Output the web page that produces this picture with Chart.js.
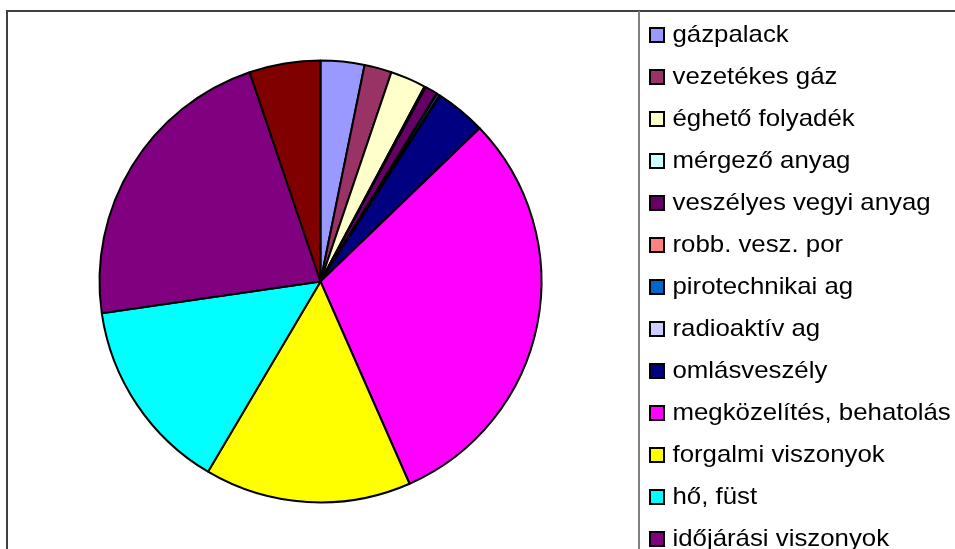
<!DOCTYPE html>
<html>
<head>
<meta charset="utf-8">
<script src="https://cdn.jsdelivr.net/npm/chart.js@4"></script>
<style>
html,body{margin:0;padding:0;background:#fff;}
#wrap{position:relative;width:955px;height:549px;}
</style>
</head>
<body>
<div id="wrap"><canvas id="c" width="955" height="549"></canvas></div>
<script>
const categories = [
  "gázpalack", "vezetékes gáz", "éghető folyadék", "mérgező anyag",
  "veszélyes vegyi anyag", "robb. vesz. por", "pirotechnikai ag",
  "radioaktív ag", "omlásveszély", "megközelítés, behatolás",
  "forgalmi viszonyok", "hő, füst", "időjárási viszonyok", "egyéb"
];
const values = [32, 20, 26, 1, 9, 0.5, 2, 0.5, 37, 306, 151, 142, 221, 52];
const colors = [
  "#9999FF", "#993366", "#FFFFCC", "#CCFFFF", "#660066", "#FF8080",
  "#0066CC", "#CCCCFF", "#000080", "#FF00FF", "#FFFF00", "#00FFFF",
  "#800080", "#800000"
];

const framePlugin = {
  id: 'frameLegend',
  afterDraw(chart) {
    const ctx = chart.ctx;
    ctx.save();
    ctx.strokeStyle = '#404040';
    ctx.lineWidth = 2;
    ctx.beginPath();
    ctx.moveTo(7, 549); ctx.lineTo(7, 11); ctx.lineTo(955, 11);
    ctx.stroke();
    ctx.strokeStyle = '#808080';
    ctx.beginPath();
    ctx.moveTo(639, 11); ctx.lineTo(639, 549);
    ctx.stroke();
    const ds = chart.data.datasets[0];
    ctx.font = '24px "Liberation Sans", Arial, sans-serif';
    ctx.textBaseline = 'alphabetic';
    ctx.textAlign = 'left';
    chart.data.labels.forEach((lab, i) => {
      const y = 28 + i * 42;
      ctx.fillStyle = ds.backgroundColor[i];
      ctx.fillRect(650, y, 14, 14);
      ctx.strokeStyle = '#000';
      ctx.lineWidth = 2;
      ctx.strokeRect(650, y, 14, 14);
      ctx.fillStyle = '#000';
      ctx.save();
      ctx.translate(672.5, y + 14);
      ctx.scale(1.075, 1);
      ctx.fillText(lab, 0, 0);
      ctx.restore();
    });
    ctx.restore();
  }
};

new Chart(document.getElementById('c'), {
  type: 'pie',
  data: {
    labels: categories,
    datasets: [{
      data: values,
      backgroundColor: colors,
      borderColor: '#000',
      borderWidth: 2
    }]
  },
  options: {
    responsive: false,
    animation: false,
    radius: 221,
    layout: { padding: { left: 0, right: 314, top: 14, bottom: 0 } },
    plugins: {
      legend: { display: false },
      tooltip: { enabled: false },
      title: { display: false }
    }
  },
  plugins: [framePlugin]
});
</script>
</body>
</html>
